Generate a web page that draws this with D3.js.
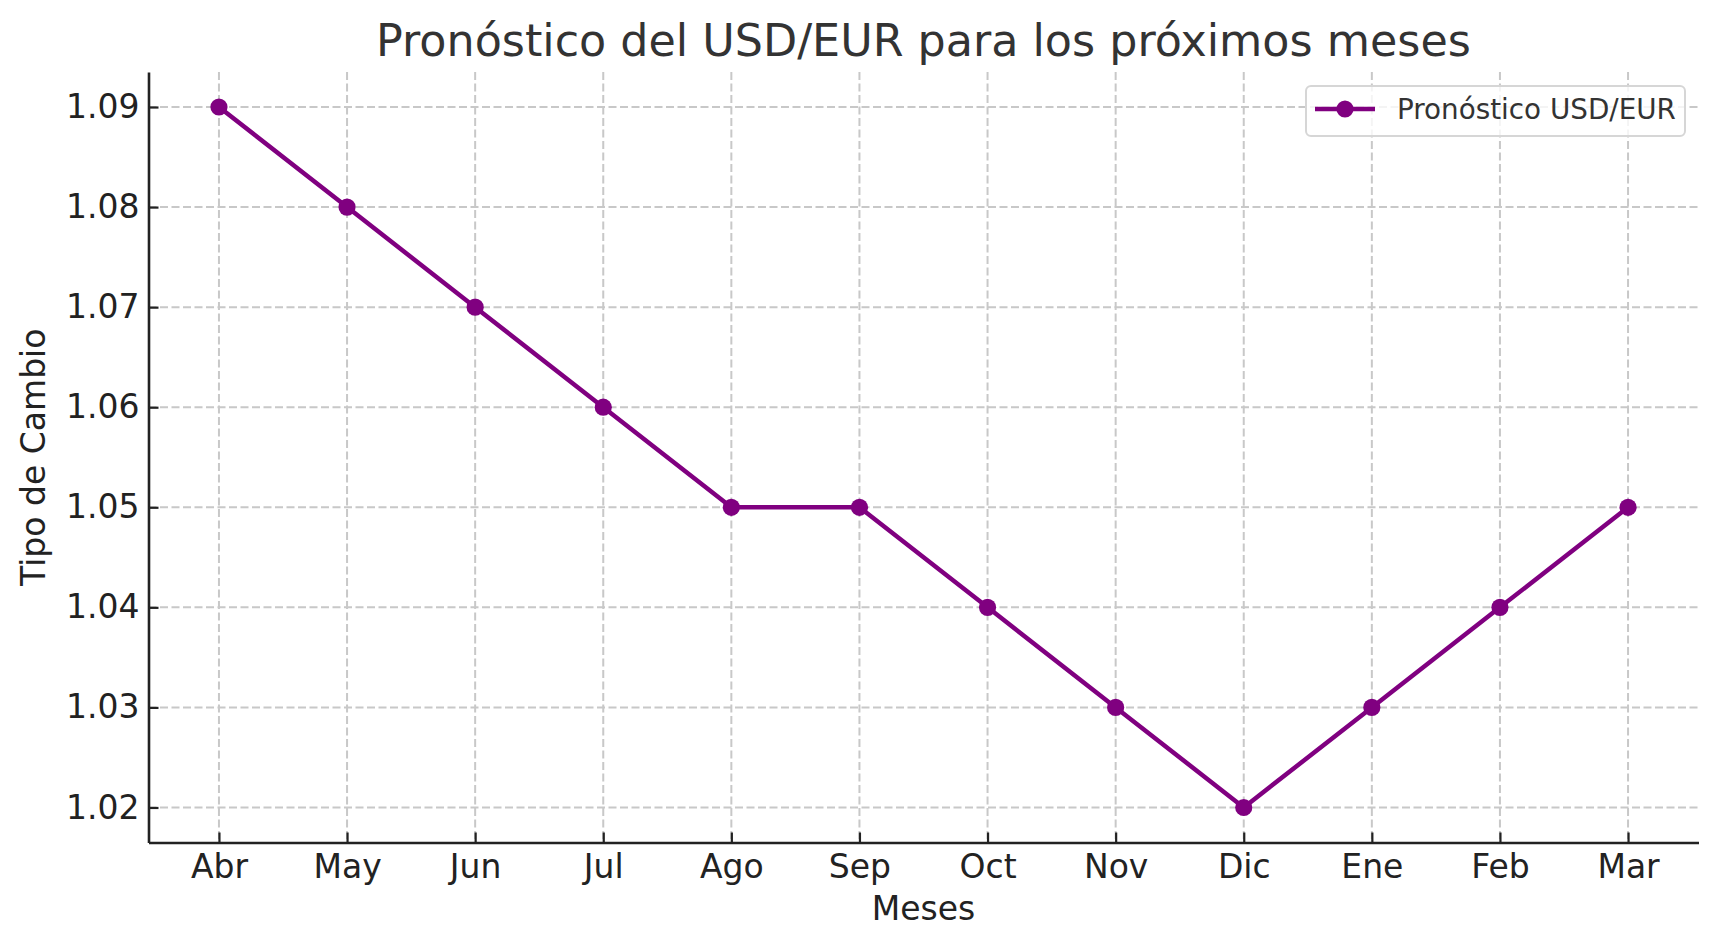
<!DOCTYPE html>
<html>
<head>
<meta charset="utf-8">
<script src="https://cdn.jsdelivr.net/npm/d3@7"></script>
<style>
    body { margin: 0; background: #fff; }
    svg { display: block; font-family: "DejaVu Sans", sans-serif; }
</style>
</head>
<body>
<svg id="chart"></svg>
<script>
// data
const months = ["Abr", "May", "Jun", "Jul", "Ago", "Sep", "Oct", "Nov", "Dic", "Ene", "Feb", "Mar"];
const forecast = [1.09, 1.08, 1.07, 1.06, 1.05, 1.05, 1.04, 1.03, 1.02, 1.03, 1.04, 1.05];
const yTicks = [1.02, 1.03, 1.04, 1.05, 1.06, 1.07, 1.08, 1.09];

const width = 1718;
const height = 949;
const margin = {top: 72, right: 19.5, bottom: 106.5, left: 148.5};
const purple = "#800080";

const svg = d3.select("#chart")
    .attr("width", width)
    .attr("height", height);

const innerW = width - margin.left - margin.right;
const innerH = height - margin.top - margin.bottom;

// matplotlib-like 5% margins around the data
const xPad = (months.length - 1) * 0.05;
const xScale = d3.scaleLinear()
    .domain([-xPad, months.length - 1 + xPad])
    .range([margin.left, margin.left + innerW]);

const yMin = d3.min(forecast), yMax = d3.max(forecast);
const yPad = (yMax - yMin) * 0.05;
const yScale = d3.scaleLinear()
    .domain([yMin - yPad, yMax + yPad])
    .range([margin.top + innerH, margin.top]);

// grid
const grid = svg.append("g")
    .attr("stroke", "#c8c8c8")
    .attr("stroke-width", 2)
    .attr("stroke-dasharray", "8,3.5");

grid.selectAll(".gx")
    .data(months)
    .enter()
    .append("line")
    .attr("x1", (d, i) => xScale(i))
    .attr("x2", (d, i) => xScale(i))
    .attr("y1", margin.top)
    .attr("y2", margin.top + innerH);

grid.selectAll(".gy")
    .data(yTicks)
    .enter()
    .append("line")
    .attr("x1", margin.left)
    .attr("x2", margin.left + innerW)
    .attr("y1", d => yScale(d))
    .attr("y2", d => yScale(d));

// axes, ticks pointing inside
const xAxis = d3.axisBottom(xScale)
    .tickValues(d3.range(months.length))
    .tickFormat(i => months[i])
    .tickSize(-10)
    .tickPadding(12)
    .tickSizeOuter(0);

const yAxis = d3.axisLeft(yScale)
    .tickValues(yTicks)
    .tickFormat(d3.format(".2f"))
    .tickSize(-10)
    .tickPadding(12)
    .tickSizeOuter(0);

const gx = svg.append("g")
    .attr("transform", `translate(0,${margin.top + innerH})`)
    .call(xAxis);

const gy = svg.append("g")
    .attr("transform", `translate(${margin.left},0)`)
    .call(yAxis);

[gx, gy].forEach(g => {
    g.select(".domain").attr("stroke", "#222").attr("stroke-width", 2.6);
    g.selectAll(".tick line").attr("stroke", "#222").attr("stroke-width", 2.2);
    g.selectAll(".tick text")
        .attr("fill", "#222")
        .style("font-family", "DejaVu Sans")
        .style("font-size", "33px");
});
gx.selectAll(".tick text").attr("dy", "0.7em");
gy.selectAll(".tick text").attr("x", -9);

// line and markers
const line = d3.line()
    .x((d, i) => xScale(i))
    .y(d => yScale(d));

svg.append("path")
    .datum(forecast)
    .attr("fill", "none")
    .attr("stroke", purple)
    .attr("stroke-width", 4.5)
    .attr("stroke-linejoin", "round")
    .attr("d", line);

svg.selectAll(".pt")
    .data(forecast)
    .enter()
    .append("circle")
    .attr("cx", (d, i) => xScale(i))
    .attr("cy", d => yScale(d))
    .attr("r", 8.6)
    .attr("fill", purple);

// title and labels
svg.append("text")
    .attr("x", margin.left + innerW / 2)
    .attr("y", 56)
    .attr("text-anchor", "middle")
    .attr("fill", "#333")
    .style("font-size", "44.4px")
    .text("Pronóstico del USD/EUR para los próximos meses");

svg.append("text")
    .attr("x", margin.left + innerW / 2)
    .attr("y", 920)
    .attr("text-anchor", "middle")
    .attr("fill", "#222")
    .style("font-size", "33px")
    .text("Meses");

svg.append("text")
    .attr("transform", `translate(45,${margin.top + innerH / 2}) rotate(-90)`)
    .attr("text-anchor", "middle")
    .attr("fill", "#222")
    .style("font-size", "33px")
    .text("Tipo de Cambio");

// legend
const legend = svg.append("g").attr("transform", "translate(1306,86)");
legend.append("rect")
    .attr("width", 379)
    .attr("height", 50)
    .attr("rx", 5)
    .attr("fill", "#fff")
    .attr("fill-opacity", 0.8)
    .attr("stroke", "#d6d6d6")
    .attr("stroke-width", 2);
legend.append("line")
    .attr("x1", 9).attr("x2", 69)
    .attr("y1", 23).attr("y2", 23)
    .attr("stroke", purple)
    .attr("stroke-width", 4.5);
legend.append("circle")
    .attr("cx", 39).attr("cy", 23)
    .attr("r", 8.6)
    .attr("fill", purple);
legend.append("text")
    .attr("x", 91)
    .attr("y", 33)
    .attr("fill", "#333")
    .style("font-size", "27.8px")
    .text("Pronóstico USD/EUR");
</script>
</body>
</html>
